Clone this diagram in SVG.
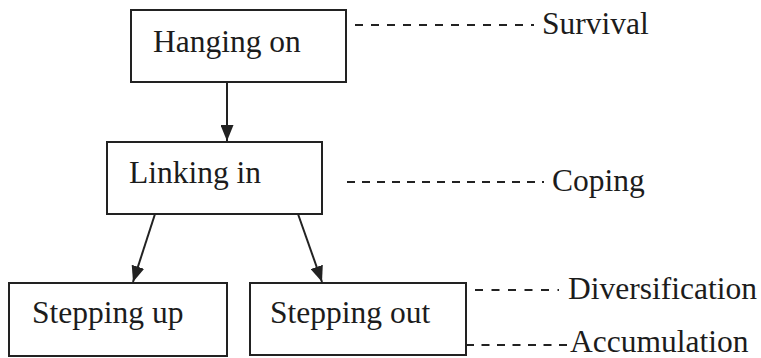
<svg xmlns="http://www.w3.org/2000/svg" width="761" height="358" viewBox="0 0 761 358">
<style>
.box{fill:#fff;stroke:#222;stroke-width:2}
.t{font-family:"Liberation Serif","Times New Roman",serif;font-size:31.5px;fill:#1c1c1c}
.arr{stroke:#222;stroke-width:2;fill:none;marker-end:url(#ah)}
.dash{stroke:#222;stroke-width:2;stroke-dasharray:8 8;fill:none}
</style>
<defs>
<marker id="ah" viewBox="0 0 16 13" refX="16" refY="6.5" markerWidth="16" markerHeight="13" markerUnits="userSpaceOnUse" orient="auto">
<path d="M0,0 L16,6.5 L0,13 Z" fill="#222"/>
</marker>
</defs>
<rect width="761" height="358" fill="#fff"/>
<g id="connectors">
<line class="arr" x1="227" y1="82" x2="227" y2="141"/>
<line class="arr" x1="155" y1="214" x2="133" y2="282"/>
<line class="arr" x1="298" y1="214" x2="322" y2="282"/>
<line class="dash" x1="355" y1="25" x2="534" y2="25"/>
<line class="dash" x1="347" y1="182" x2="544" y2="182" style="stroke-dasharray:8 7"/>
<line class="dash" x1="475" y1="290" x2="559" y2="290" style="stroke-dasharray:8 8.5"/>
<line class="dash" x1="466" y1="345" x2="568" y2="345" style="stroke-dasharray:8 7.5"/>
</g>
<g id="hanging-on">
<rect class="box" x="131" y="10" width="215" height="72"/>
<text class="t" x="153" y="52">Hanging on</text>
</g>
<g id="linking-in">
<rect class="box" x="107" y="142" width="215" height="72"/>
<text class="t" x="129" y="183">Linking in</text>
</g>
<g id="stepping-up">
<rect class="box" x="9" y="283" width="218" height="73"/>
<text class="t" x="32" y="323">Stepping up</text>
</g>
<g id="stepping-out">
<rect class="box" x="250" y="283" width="216" height="72"/>
<text class="t" x="270" y="323">Stepping out</text>
</g>
<g id="survival"><text class="t" x="542" y="34">Survival</text></g>
<g id="coping"><text class="t" x="552" y="191">Coping</text></g>
<g id="diversification"><text class="t" x="568" y="299">Diversification</text></g>
<g id="accumulation"><text class="t" x="570" y="352">Accumulation</text></g>
</svg>
